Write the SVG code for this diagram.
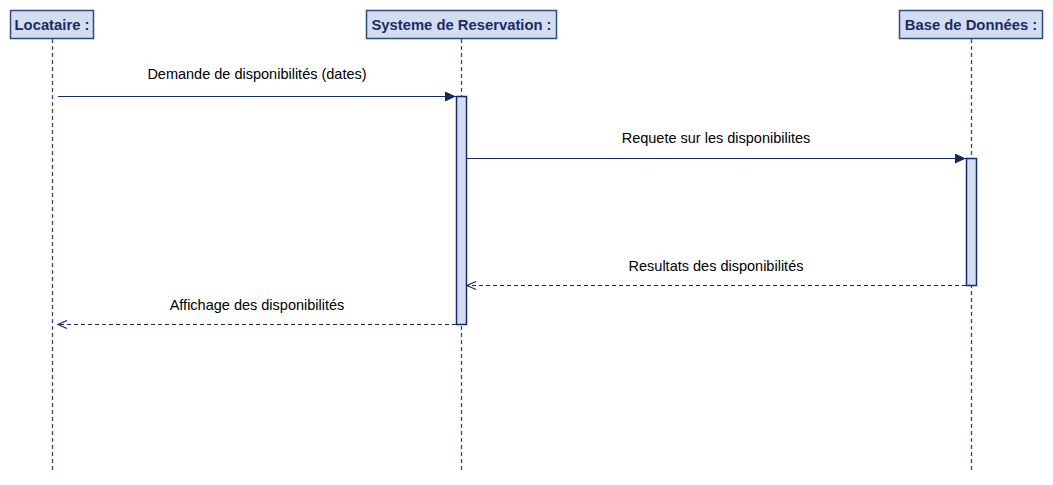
<svg xmlns="http://www.w3.org/2000/svg" width="1053" height="485" viewBox="0 0 1053 485">
<style>
.hdr{fill:#d3ddf1;stroke:#2c4a86;stroke-width:1.5}
.ht{font-family:"Liberation Sans",Arial,sans-serif;font-weight:bold;font-size:14.8px;fill:#1b2a66;text-anchor:middle}
.life{stroke:#2c4a86;stroke-width:1.3;stroke-dasharray:4,3;fill:none}
.act{fill:#d3ddf1;stroke:#14296b;stroke-width:1.5}
.msg{stroke:#14296b;stroke-width:1.2;fill:none}
.ret{stroke:#14296b;stroke-width:1.2;fill:none;stroke-dasharray:4,3}
.lbl{font-family:"Liberation Sans",Arial,sans-serif;font-size:14.5px;fill:#000;text-anchor:middle}
</style>
<defs>
<marker id="fill" markerWidth="12" markerHeight="10" refX="11" refY="5" orient="auto" markerUnits="userSpaceOnUse">
<path d="M0,0 L11,5 L0,10 Z" fill="#14296b"/>
</marker>
<marker id="open" markerWidth="12" markerHeight="10" refX="10" refY="5" orient="auto" markerUnits="userSpaceOnUse">
<path d="M1,1 L10,5 L1,9" fill="none" stroke="#14296b" stroke-width="1.2"/>
</marker>
</defs>
<rect width="1053" height="485" fill="#fff"/>
<g id="locataire">
<rect class="hdr" x="10.5" y="10.5" width="83" height="28"/>
<text class="ht" x="52" y="29.5">Locataire :</text>
<line class="life" x1="52.5" y1="39" x2="52.5" y2="473"/>
</g>
<g id="systeme">
<rect class="hdr" x="366.5" y="10.5" width="190" height="28"/>
<text class="ht" x="461.5" y="29.5">Systeme de Reservation :</text>
<line class="life" x1="461.5" y1="39" x2="461.5" y2="473"/>
<rect class="act" x="456.5" y="96.5" width="10" height="228"/>
</g>
<g id="base">
<rect class="hdr" x="899.5" y="10.5" width="143" height="28"/>
<text class="ht" x="971" y="29.5">Base de Données :</text>
<line class="life" x1="971.5" y1="39" x2="971.5" y2="473"/>
<rect class="act" x="966.5" y="158.5" width="10" height="127"/>
</g>
<g id="connectors">
<line class="msg" x1="58" y1="96.5" x2="456" y2="96.5" marker-end="url(#fill)"/>
<text class="lbl" x="257" y="79">Demande de disponibilités (dates)</text>
<line class="msg" x1="467" y1="158.5" x2="966" y2="158.5" marker-end="url(#fill)"/>
<text class="lbl" x="716" y="143">Requete sur les disponibilites</text>
<line class="ret" x1="966" y1="285.5" x2="467" y2="285.5" marker-end="url(#open)"/>
<text class="lbl" x="716" y="271">Resultats des disponibilités</text>
<line class="ret" x1="456" y1="324.5" x2="58" y2="324.5" marker-end="url(#open)"/>
<text class="lbl" x="257" y="310">Affichage des disponibilités</text>
</g>
</svg>
